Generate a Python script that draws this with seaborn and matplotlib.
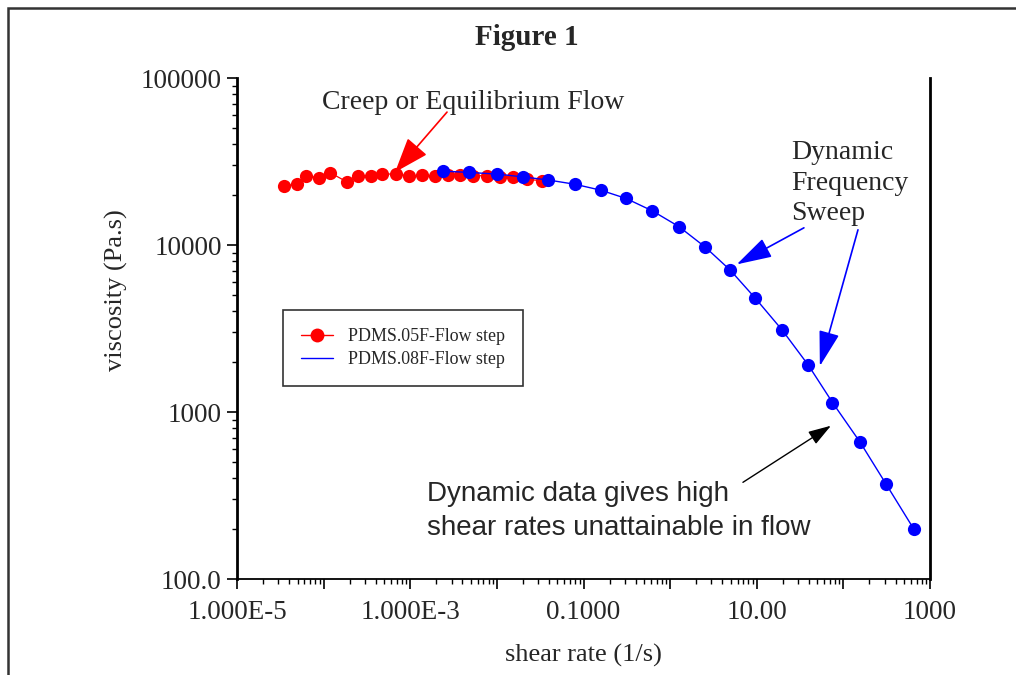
import numpy as np
import pandas as pd
import matplotlib
matplotlib.use('Agg')
import matplotlib.pyplot as plt
from matplotlib.lines import Line2D
from matplotlib.legend_handler import HandlerLine2D
from matplotlib.patches import Rectangle
import seaborn as sns

# creep / equilibrium flow data (red)
flow_rate = [3.49e-5, 4.89e-5, 6.27e-5, 8.77e-5, 1.19e-4, 1.88e-4, 2.52e-4,
             3.50e-4, 4.72e-4, 6.81e-4, 9.77e-4, 1.36e-3, 1.93e-3, 2.75e-3,
             3.76e-3, 5.36e-3, 7.64e-3, 0.0109, 0.0155, 0.0221, 0.033]
flow_visc = [22600, 23200, 26000, 25300, 27100, 23800, 26000,
             26000, 26500, 26700, 25900, 26100, 25900, 26100,
             26400, 26000, 26000, 25600, 25400, 24700, 24300]

# dynamic frequency sweep data (blue)
dyn_rate = [0.00241, 0.00481, 0.00998, 0.0198, 0.0394, 0.080, 0.158, 0.310,
            0.625, 1.26, 2.54, 4.97, 9.66, 19.6, 39.3, 74.8, 156, 312, 646]
dyn_visc = [27700, 27200, 26600, 25600, 24500, 23100, 21300, 19000,
            16000, 12900, 9720, 7050, 4790, 3100, 1910, 1140, 659, 369, 200]

legend_labels = ['PDMS.05F-Flow step', 'PDMS.08F-Flow step']
x_ticklabels = ['1.000E-5', '1.000E-3', '0.1000', '10.00', '1000']
y_ticks = [100, 1000, 10000, 100000]
y_ticklabels = ['100.0', '1000', '10000', '100000']

df_flow = pd.DataFrame({'rate': flow_rate, 'visc': flow_visc})
df_dyn = pd.DataFrame({'rate': dyn_rate, 'visc': dyn_visc})

sns.set_style('ticks')
plt.rcParams['font.family'] = ['Liberation Serif', 'DejaVu Serif']

fig = plt.figure(figsize=(10.16, 6.75), dpi=100)
ax = fig.add_axes([0.2333, 0.1422, 0.6821, 0.7422])

sns.lineplot(data=df_flow, x='rate', y='visc', color='#ff0000', marker='o',
             markersize=9.5, markeredgewidth=0, linewidth=0.9, ax=ax)
sns.lineplot(data=df_dyn, x='rate', y='visc', color='#0000ff', marker='o',
             markersize=9.5, markeredgewidth=0, linewidth=1.0, ax=ax)

ax.set_xscale('log')
ax.set_yscale('log')
ax.set_xlim(1e-5, 1000)
ax.set_ylim(100, 100000)
# major tick every decade, label every second one
ax.set_xticks([10.0 ** d for d in range(-5, 4)])
ax.set_xticklabels([x_ticklabels[i // 2] if i % 2 == 0 else '' for i in range(9)])
ax.set_yticks(y_ticks)
ax.set_yticklabels(y_ticklabels)

ax.tick_params(axis='both', which='major', direction='out', length=7, width=1.2,
               labelsize=19.5, color='black', pad=4)
ax.tick_params(axis='x', which='major', pad=8)
ax.tick_params(axis='both', which='minor', direction='out', length=3.3, width=1.0,
               color='black')
ax.tick_params(axis='y', right=False, which='both')
ax.tick_params(axis='x', top=False, which='both')

ax.spines['top'].set_visible(False)
ax.spines['left'].set_linewidth(2)
ax.spines['right'].set_linewidth(2)
ax.spines['bottom'].set_linewidth(1.3)
for s in ['left', 'right', 'bottom']:
    ax.spines[s].set_color('black')

ax.set_xlabel('shear rate (1/s)', fontsize=19, labelpad=14)
ax.set_ylabel('viscosity (Pa.s)', fontsize=19)
ax.yaxis.set_label_coords(-0.157, 0.577)


class LeftMarkerHandler(HandlerLine2D):
    def get_xdata(self, legend, xdescent, ydescent, width, height, fontsize):
        xdata, _ = super().get_xdata(legend, xdescent, ydescent, width, height, fontsize)
        return xdata, np.array([xdata[0] + 0.2 * width])


handles = [Line2D([], [], color='#ff0000', marker='o', markersize=10,
                  markeredgewidth=0, linewidth=1),
           Line2D([], [], color='#0000ff', linewidth=1)]
leg = ax.legend(handles, legend_labels, loc='upper left',
                bbox_to_anchor=(0.0664, 0.537), borderaxespad=0,
                fontsize=12.9, frameon=True, fancybox=False, framealpha=1,
                edgecolor='#333333', borderpad=1.0, handlelength=1.8,
                handletextpad=0.85, labelspacing=0.35, numpoints=1,
                handler_map={handles[0]: LeftMarkerHandler(),
                             handles[1]: LeftMarkerHandler()})
leg.get_frame().set_linewidth(1.2)

# annotations
ax.text(0.1227, 0.952, 'Creep or Equilibrium Flow', transform=ax.transAxes,
        fontsize=20, ha='left', va='center')
ax.annotate('', xy=(0.228, 0.812), xytext=(0.303, 0.932),
            xycoords='axes fraction', textcoords='axes fraction',
            arrowprops=dict(arrowstyle='-|>,head_length=0.55,head_width=0.2',
                            color='#ff0000', lw=1.2, mutation_scale=40,
                            shrinkA=0, shrinkB=0))

ax.text(0.7994, 0.790, 'Dynamic\nFrequency\nSweep', transform=ax.transAxes,
        fontsize=20, ha='left', va='center', linespacing=1.3)
ax.annotate('', xy=(0.721, 0.628), xytext=(0.818, 0.701),
            xycoords='axes fraction', textcoords='axes fraction',
            arrowprops=dict(arrowstyle='-|>,head_length=0.55,head_width=0.16',
                            color='#0000ff', lw=1.2, mutation_scale=40,
                            shrinkA=0, shrinkB=0))
ax.annotate('', xy=(0.841, 0.425), xytext=(0.896, 0.697),
            xycoords='axes fraction', textcoords='axes fraction',
            arrowprops=dict(arrowstyle='-|>,head_length=0.55,head_width=0.16',
                            color='#0000ff', lw=1.2, mutation_scale=40,
                            shrinkA=0, shrinkB=0))

ax.text(0.274, 0.136, 'Dynamic data gives high\nshear rates unattainable in flow',
        transform=ax.transAxes, fontsize=20, ha='left', va='center',
        family=['Liberation Sans', 'DejaVu Sans'], linespacing=1.42)
ax.annotate('', xy=(0.857, 0.306), xytext=(0.730, 0.193),
            xycoords='axes fraction', textcoords='axes fraction',
            arrowprops=dict(arrowstyle='-|>,head_length=0.5,head_width=0.16',
                            color='black', lw=1.0, mutation_scale=28,
                            shrinkA=0, shrinkB=0))

fig.text(0.519, 0.945, 'Figure 1', fontsize=21, fontweight='bold',
         ha='center', va='center')

# outer frame of the figure
fig.patches.append(Rectangle((8 / 1016, -0.1), 1.2, 1.1 - 8 / 675,
                             transform=fig.transFigure, fill=False,
                             edgecolor='#333333', linewidth=1.8))

fig.savefig('out.png', dpi=100)
